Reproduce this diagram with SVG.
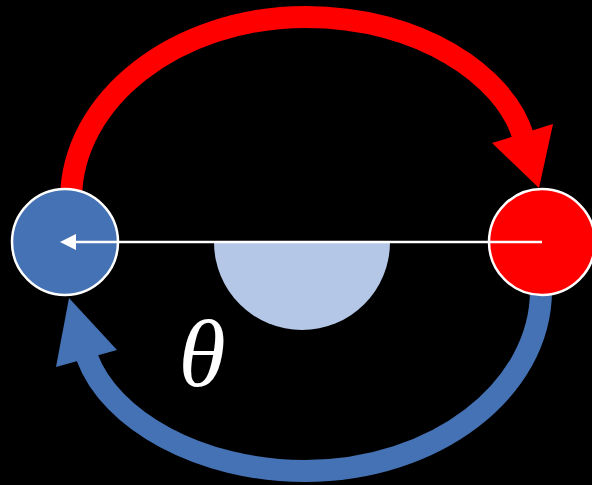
<svg xmlns="http://www.w3.org/2000/svg" width="592" height="485" viewBox="0 0 592 485">
<style>
.arc{fill:none;stroke-width:22}
.node{stroke:#fff;stroke-width:2.5}
</style>
<rect width="592" height="485" fill="#000"/>
<g id="angle">
<path d="M214 242 A88 88 0 0 0 390 242 Z" fill="#B4C7E7"/>
</g>
<g id="connectors">
<path class="arc" stroke="#FF0000" d="M71 205 L71 200 C71 99 177 17 306 17 C420 17 505 76 523 136"/>
<polygon points="492,143 553,124 539,188" fill="#FF0000"/>
<path class="arc" stroke="#4472B4" d="M541 285 L541 290 C541 390 435 471 305 471 C200 471 110 420 87 357"/>
<polygon points="69,298 56,367 117,350" fill="#4472B4"/>
</g>
<g id="blue-node"><circle class="node" cx="65" cy="242" r="53" fill="#4472B4"/></g>
<g id="red-node"><circle class="node" cx="542" cy="242" r="53" fill="#FF0000"/></g>
<g id="vector">
<line x1="74" y1="242" x2="542" y2="242" stroke="#fff" stroke-width="2.5"/>
<polygon points="60,242 76,234 76,250" fill="#fff"/>
</g>
<text x="202" y="386" font-family="Liberation Serif, serif" font-style="italic" font-size="96" fill="#fff" text-anchor="middle">θ</text>
</svg>
